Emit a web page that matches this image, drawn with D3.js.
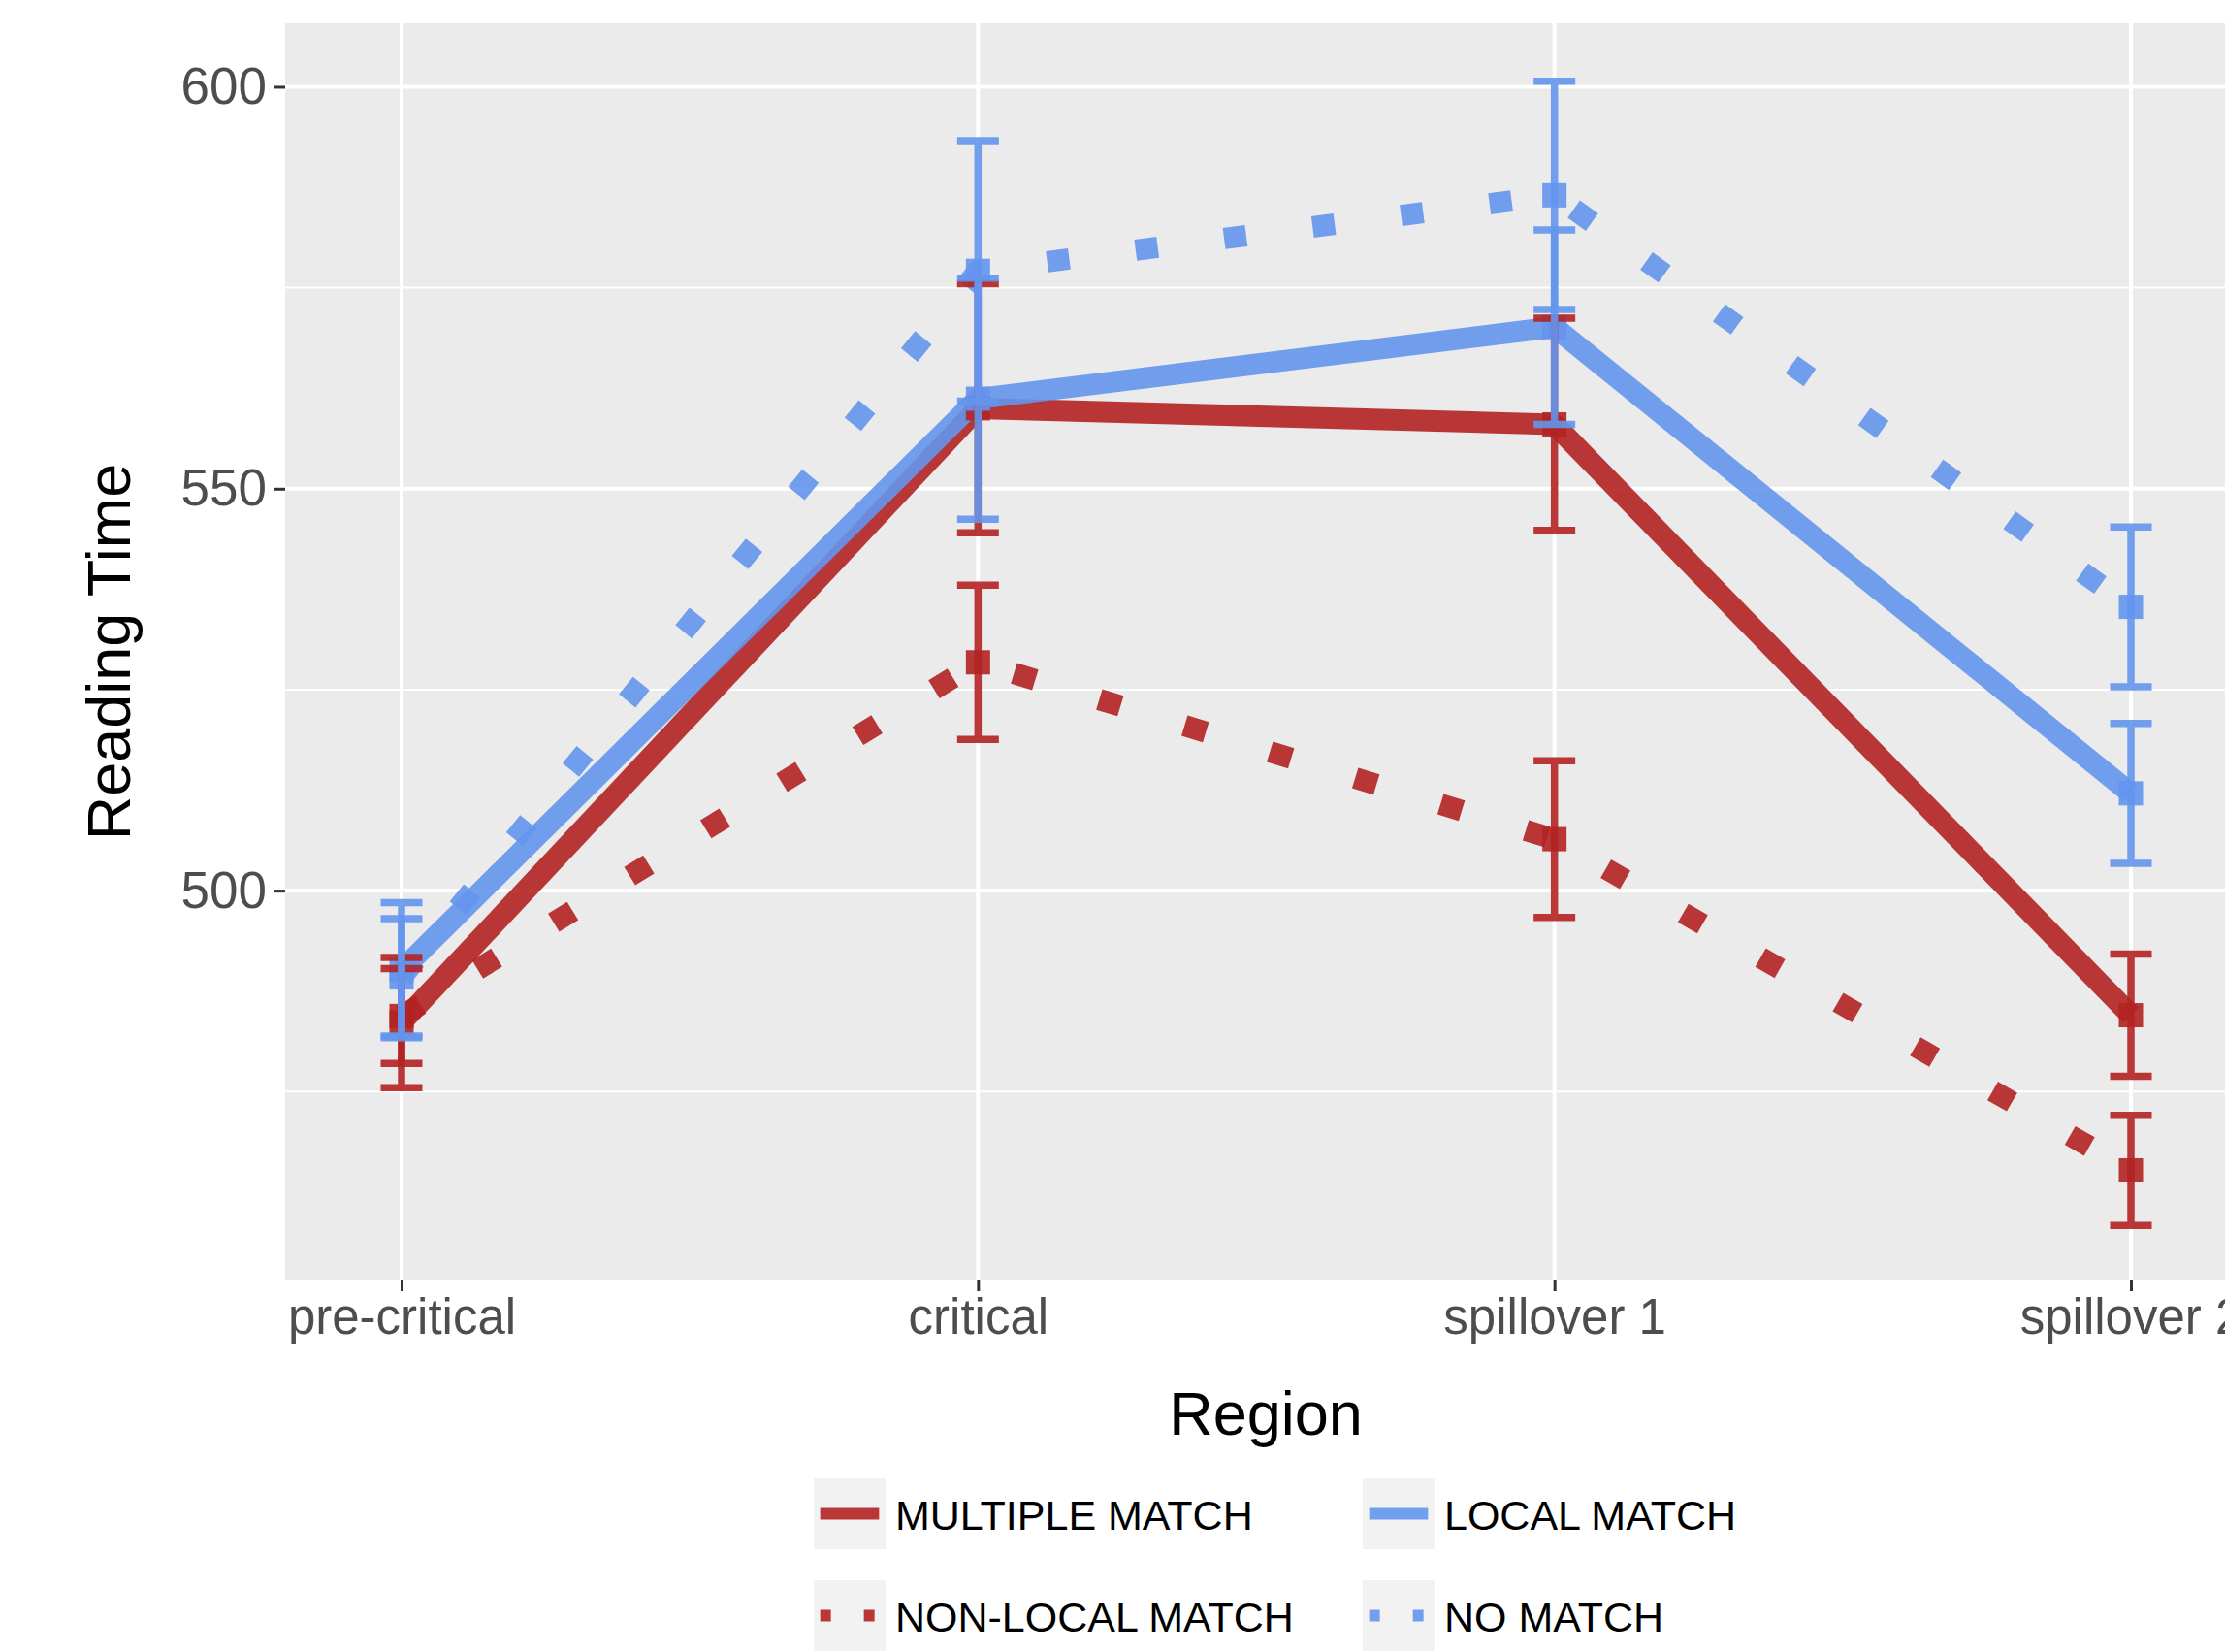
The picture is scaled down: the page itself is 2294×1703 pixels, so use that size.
<!DOCTYPE html>
<html>
<head>
<meta charset="utf-8">
<script src="https://cdn.jsdelivr.net/npm/d3@7"></script>
<style>
  body { margin: 0; background: #fff; }
  svg { display: block; font-family: "Liberation Sans", Arial, sans-serif; }
</style>
</head>
<body>
<div id="chart"></div>
<script>
// Data (means and standard errors, in ms)
var regions = ["pre-critical", "critical", "spillover 1", "spillover 2"];
var conditions = ["MULTIPLE MATCH", "NON-LOCAL MATCH", "LOCAL MATCH", "NO MATCH"];

var multipleMatch   = [483.6, 560.0, 558.0, 484.5];
var multipleMatchSE = [8.1, 15.5, 13.2, 7.6];
var nonLocalMatch   = [484.4, 528.4, 506.4, 465.2];
var nonLocalMatchSE = [5.9, 9.6, 9.75, 6.85];
var localMatch      = [490.1, 561.2, 570.1, 512.1];
var localMatchSE    = [8.4, 15.0, 12.1, 8.7];
var noMatch         = [489.2, 577.1, 586.5, 535.3];
var noMatchSE       = [7.3, 16.2, 14.2, 9.95];

var yMajorTicks = [500, 550, 600];
var yMinorTicks = [475, 525, 575];
var yDomain = [451.5, 607.9];

// styling
var red = "#B22222", blue = "#6495ED";
var condColor  = [red, red, blue, blue];
var condDotted = [false, true, false, true];

var W = 2294, H = 1703;
var panel = {left: 294, top: 24, right: 2317, bottom: 1320};

var svg = d3.select("#chart").append("svg")
  .attr("width", W)
  .attr("height", H);

var x = d3.scalePoint().domain(regions).range([414, 2197]);
var y = d3.scaleLinear().domain(yDomain).range([panel.bottom, panel.top]);

var means = [multipleMatch, nonLocalMatch, localMatch, noMatch];
var ses = [multipleMatchSE, nonLocalMatchSE, localMatchSE, noMatchSE];

var series = conditions.map(function(c, i){
  return {
    name: c,
    color: condColor[i],
    dotted: condDotted[i],
    values: regions.map(function(r, j){
      return {region: r, mean: means[i][j], lo: means[i][j] - ses[i][j], hi: means[i][j] + ses[i][j]};
    })
  };
});

//////// panel background + grid ////////
svg.append("rect")
  .attr("x", panel.left).attr("y", panel.top)
  .attr("width", panel.right - panel.left)
  .attr("height", panel.bottom - panel.top)
  .attr("fill", "#EBEBEB");

svg.append("g").selectAll("line")
  .data(yMinorTicks).enter().append("line")
  .attr("x1", panel.left).attr("x2", panel.right)
  .attr("y1", function(d){ return y(d); })
  .attr("y2", function(d){ return y(d); })
  .attr("stroke", "#fff").attr("stroke-width", 2);

svg.append("g").selectAll("line")
  .data(yMajorTicks).enter().append("line")
  .attr("x1", panel.left).attr("x2", panel.right)
  .attr("y1", function(d){ return y(d); })
  .attr("y2", function(d){ return y(d); })
  .attr("stroke", "#fff").attr("stroke-width", 4);

svg.append("g").selectAll("line")
  .data(regions).enter().append("line")
  .attr("x1", function(d){ return x(d); })
  .attr("x2", function(d){ return x(d); })
  .attr("y1", panel.top).attr("y2", panel.bottom)
  .attr("stroke", "#fff").attr("stroke-width", 4);

//////// lines ////////
var line = d3.line()
  .x(function(d){ return x(d.region); })
  .y(function(d){ return y(d.mean); });

svg.append("g").selectAll("path")
  .data(series).enter().append("path")
  .attr("d", function(d){ return line(d.values); })
  .attr("fill", "none")
  .attr("stroke", function(d){ return d.color; })
  .attr("stroke-opacity", 0.9)
  .attr("stroke-width", 22)
  .attr("stroke-linejoin", "round")
  .attr("stroke-linecap", "butt")
  .attr("stroke-dasharray", function(d){ return d.dotted ? "23 69" : null; });

//////// points ////////
var sq = 25;
series.forEach(function(s){
  svg.append("g").selectAll("rect")
    .data(s.values).enter().append("rect")
    .attr("x", function(d){ return x(d.region) - sq / 2; })
    .attr("y", function(d){ return y(d.mean) - sq / 2; })
    .attr("width", sq).attr("height", sq)
    .attr("fill", s.color)
    .attr("fill-opacity", 0.9);
});

//////// error bars ////////
var ebw = 43;
series.forEach(function(s){
  svg.append("g").selectAll("path")
    .data(s.values).enter().append("path")
    .attr("d", function(d){
      var p = d3.path(), cx = x(d.region);
      p.moveTo(cx - ebw / 2, y(d.hi)); p.lineTo(cx + ebw / 2, y(d.hi));
      p.moveTo(cx, y(d.hi)); p.lineTo(cx, y(d.lo));
      p.moveTo(cx - ebw / 2, y(d.lo)); p.lineTo(cx + ebw / 2, y(d.lo));
      return p.toString();
    })
    .attr("fill", "none")
    .attr("stroke", s.color)
    .attr("stroke-opacity", 0.9)
    .attr("stroke-width", 7.5);
});

//////// axes ////////
var xAxis = svg.append("g")
  .attr("transform", "translate(0," + panel.bottom + ")")
  .call(d3.axisBottom(x).tickSize(11).tickPadding(8));
xAxis.select(".domain").remove();
xAxis.selectAll("line").attr("stroke", "#333").attr("stroke-width", 3);
xAxis.selectAll("text")
  .attr("fill", "#4D4D4D")
  .attr("font-size", 51)
  .attr("font-family", "Liberation Sans, Arial, sans-serif");

var yAxis = svg.append("g")
  .attr("transform", "translate(" + panel.left + ",0)")
  .call(d3.axisLeft(y).tickValues(yMajorTicks).tickSize(11).tickPadding(8));
yAxis.select(".domain").remove();
yAxis.selectAll("line").attr("stroke", "#333").attr("stroke-width", 3);
yAxis.selectAll("text")
  .attr("fill", "#4D4D4D")
  .attr("font-size", 53)
  .attr("font-family", "Liberation Sans, Arial, sans-serif");

// axis titles
svg.append("text")
  .attr("x", 1305).attr("y", 1479)
  .attr("text-anchor", "middle")
  .attr("font-size", 63)
  .attr("fill", "#000")
  .text("Region");

svg.append("text")
  .attr("transform", "translate(134," + ((panel.top + panel.bottom) / 2) + ") rotate(-90)")
  .attr("text-anchor", "middle")
  .attr("font-size", 63)
  .attr("fill", "#000")
  .text("Reading Time");

//////// legend ////////
// two columns, filled by column
var legendCols = [839, 1405], legendRows = [1524, 1629];
var keyW = 74, keyH = 73;

var legend = svg.append("g").attr("class", "legend");
var items = legend.selectAll("g")
  .data(series).enter().append("g")
  .attr("transform", function(d, i){
    return "translate(" + legendCols[Math.floor(i / 2)] + "," + legendRows[i % 2] + ")";
  });

items.append("rect")
  .attr("width", keyW).attr("height", keyH)
  .attr("fill", "#F2F2F2");

items.append("line")
  .attr("x1", keyW * 0.09).attr("x2", keyW * 0.91)
  .attr("y1", keyH / 2).attr("y2", keyH / 2)
  .attr("stroke", function(d){ return d.color; })
  .attr("stroke-opacity", 0.9)
  .attr("stroke-width", 12)
  .attr("stroke-dasharray", function(d){ return d.dotted ? "11 34" : null; });

items.append("text")
  .attr("x", keyW + 10)
  .attr("y", keyH / 2 + 16)
  .attr("font-size", 43)
  .attr("fill", "#000")
  .text(function(d){ return d.name; });
</script>
</body>
</html>
